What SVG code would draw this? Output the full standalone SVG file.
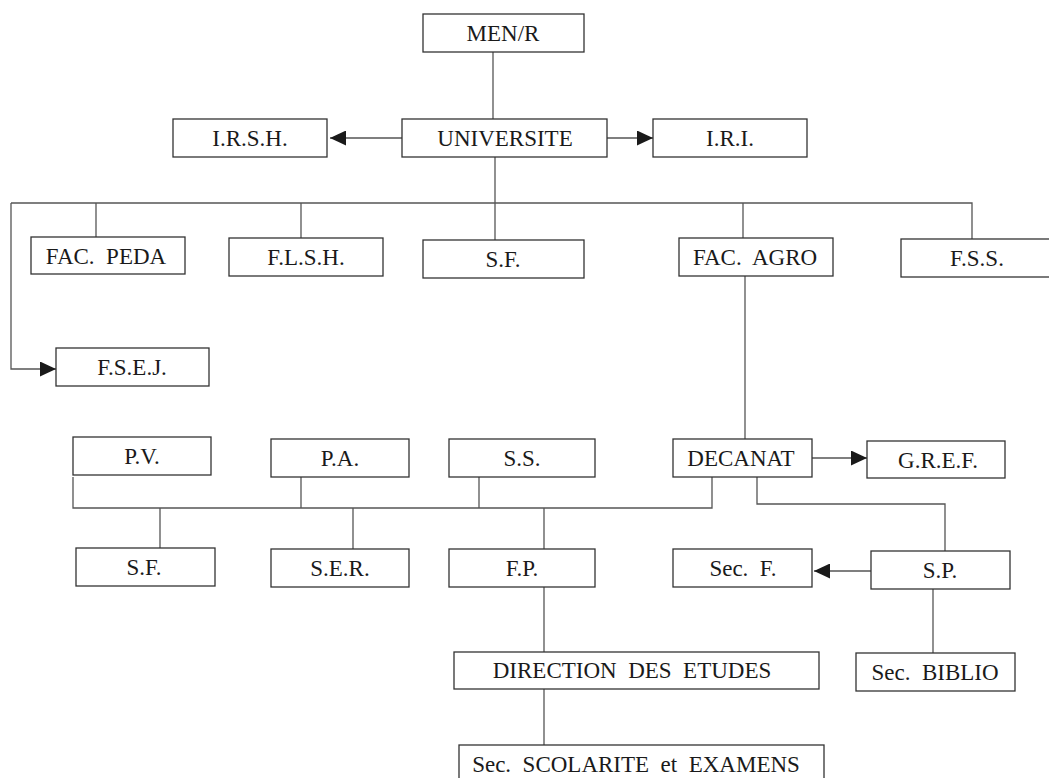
<svg xmlns="http://www.w3.org/2000/svg" width="1049" height="778" viewBox="0 0 1049 778">
<defs>
<style>
.box{fill:#fff;stroke:#333;stroke-width:1.3}
.t{font-family:'Liberation Serif','DejaVu Serif','Times New Roman',serif;font-size:23px;fill:#1a1a1a;text-anchor:middle;white-space:pre}
.c{fill:none;stroke:#555;stroke-width:1.3}
</style>
<marker id="ah" markerUnits="userSpaceOnUse" markerWidth="16" markerHeight="15" refX="16" refY="7.5" orient="auto">
<path d="M0,0 L16,7.5 L0,15 z" fill="#1a1a1a"/>
</marker>
</defs>
<rect width="1049" height="778" fill="#fff"/>
<g id="connectors">
<path class="c" d="M493,52 V119"/>
<path class="c" d="M402,138 H330" marker-end="url(#ah)"/>
<path class="c" d="M607,138 H653" marker-end="url(#ah)"/>
<path class="c" d="M495,157 V240"/>
<path class="c" d="M11,203 H972 V239"/>
<path class="c" d="M11,203 V369 H56" marker-end="url(#ah)"/>
<path class="c" d="M96,203 V237"/>
<path class="c" d="M301,203 V238"/>
<path class="c" d="M743,203 V238"/>
<path class="c" d="M745,276 V439"/>
<path class="c" d="M812,458 H867" marker-end="url(#ah)"/>
<path class="c" d="M73,477 V508 H712 V477"/>
<path class="c" d="M301,477 V508"/>
<path class="c" d="M479,477 V508"/>
<path class="c" d="M160,508 V548"/>
<path class="c" d="M353,508 V549"/>
<path class="c" d="M544,508 V549"/>
<path class="c" d="M757,477 V504 H945 V551"/>
<path class="c" d="M871,571 H814" marker-end="url(#ah)"/>
<path class="c" d="M933,589 V653"/>
<path class="c" d="M544,587 V652"/>
<path class="c" d="M544,689 V745"/>
</g>
<g font-family="Liberation Serif, DejaVu Serif, serif">
<g id="men"><rect class="box" x="423" y="14" width="161" height="38"/><text class="t" x="503" y="41">MEN/R</text></g>
<g id="universite"><rect class="box" x="402" y="119" width="205" height="38"/><text class="t" x="505" y="146">UNIVERSITE</text></g>
<g id="irsh"><rect class="box" x="173" y="119" width="154" height="38"/><text class="t" x="250" y="146">I.R.S.H.</text></g>
<g id="iri"><rect class="box" x="653" y="119" width="154" height="38"/><text class="t" x="730" y="146">I.R.I.</text></g>
<g id="facpeda"><rect class="box" x="31" y="237" width="154" height="37"/><text class="t" x="106" y="264">FAC.  PEDA</text></g>
<g id="flsh"><rect class="box" x="229" y="238" width="154" height="38"/><text class="t" x="306" y="265">F.L.S.H.</text></g>
<g id="sf1"><rect class="box" x="423" y="240" width="161" height="38"/><text class="t" x="503" y="267">S.F.</text></g>
<g id="facagro"><rect class="box" x="679" y="238" width="154" height="38"/><text class="t" x="755" y="265">FAC.  AGRO</text></g>
<g id="fss"><rect class="box" x="901" y="239" width="152" height="38"/><text class="t" x="977" y="266">F.S.S.</text></g>
<g id="fsej"><rect class="box" x="56" y="348" width="153" height="38"/><text class="t" x="132" y="375">F.S.E.J.</text></g>
<g id="pv"><rect class="box" x="73" y="437" width="138" height="38"/><text class="t" x="142" y="464">P.V.</text></g>
<g id="pa"><rect class="box" x="271" y="439" width="138" height="38"/><text class="t" x="340" y="466">P.A.</text></g>
<g id="ss"><rect class="box" x="449" y="439" width="146" height="38"/><text class="t" x="522" y="466">S.S.</text></g>
<g id="decanat"><rect class="box" x="673" y="439" width="139" height="38"/><text class="t" x="741" y="466">DECANAT</text></g>
<g id="gref"><rect class="box" x="867" y="441" width="138" height="37"/><text class="t" x="938" y="468">G.R.E.F.</text></g>
<g id="sf2"><rect class="box" x="76" y="548" width="139" height="38"/><text class="t" x="144" y="575">S.F.</text></g>
<g id="ser"><rect class="box" x="271" y="549" width="138" height="38"/><text class="t" x="340" y="576">S.E.R.</text></g>
<g id="fp"><rect class="box" x="449" y="549" width="146" height="38"/><text class="t" x="522" y="576">F.P.</text></g>
<g id="secf"><rect class="box" x="673" y="549" width="139" height="38"/><text class="t" x="743" y="576">Sec.  F.</text></g>
<g id="sp"><rect class="box" x="871" y="551" width="139" height="38"/><text class="t" x="940" y="578">S.P.</text></g>
<g id="direction"><rect class="box" x="454" y="652" width="365" height="37"/><text class="t" x="632" y="678">DIRECTION  DES  ETUDES</text></g>
<g id="secbiblio"><rect class="box" x="856" y="653" width="159" height="38"/><text class="t" x="935" y="680">Sec.  BIBLIO</text></g>
<g id="secscol"><rect class="box" x="459" y="745" width="365" height="40"/><text class="t" x="636" y="772">Sec.  SCOLARITE  et  EXAMENS</text></g>
</g>
</svg>
